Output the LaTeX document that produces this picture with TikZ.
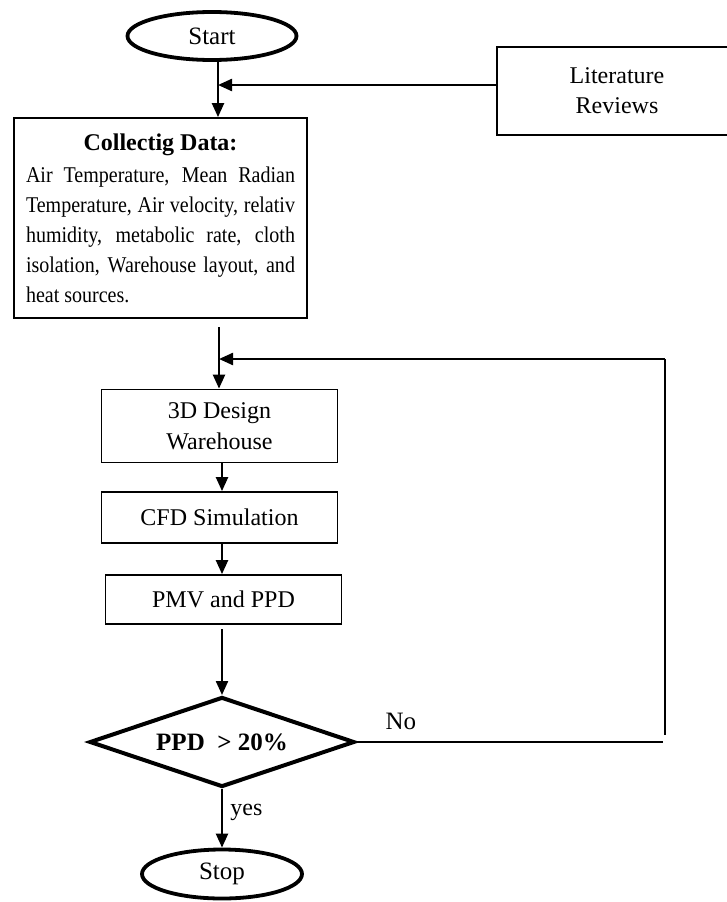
\documentclass[tikz,border=0pt]{standalone}
\usepackage{fontspec}
\setmainfont{Liberation Serif}
\usetikzlibrary{positioning,shapes.geometric,arrows.meta}

\begin{document}
\begin{tikzpicture}[
    x=1pt, y=-1pt,
    box/.style={%
      draw,
      rectangle,
      line width=1.8pt,
      minimum width=236pt,
      align=center,
      font=\fontsize{24}{30}\selectfont,
    },
    term/.style={%
      draw,
      ellipse,
      line width=3.8pt,
      minimum width=169pt,
      minimum height=48pt,
      font=\fontsize{25}{30}\selectfont,
    },
    decide/.style={%
      draw,
      diamond,
      aspect=2.9,
      line width=4pt,
      inner sep=0pt,
      minimum width=265pt,
      minimum height=90pt,
      font=\bfseries\fontsize{25}{30}\selectfont,
    },
    arr/.style={-{Triangle[length=14pt,width=12pt]}, line width=2.3pt},
    back/.style={line width=1.8pt},
  ]

    \useasboundingbox (0,0) rectangle (727,902);

    \node [term] (Start) at (212,36) {Start};
    \node [box, minimum width=240pt, minimum height=88pt] (Lit) at (617,91) {Literature\\Reviews};
    \node [box, minimum width=0pt, minimum height=200pt, text width=269pt, inner xsep=12pt,
      align=justify, font=\fontsize{22.5}{30}\selectfont\addfontfeatures{FakeStretch=0.89}] (Data) at (160.5,218)
      {{\centering\normalfont\bfseries\fontsize{24}{30}\selectfont Collectig Data:\par}\vspace{2pt}%
       Air Temperature, Mean Radian\linebreak
       Temperature, Air velocity, relativ\linebreak
       humidity, metabolic rate, cloth\linebreak
       isolation, Warehouse layout, and\linebreak
       heat sources.};
    \node [box, minimum height=73pt, font=\fontsize{24}{31}\selectfont] (Design) at (219.5,426) {3D Design\\Warehouse};
    \node [box, minimum height=51pt] (CFD) at (219.5,517.5) {CFD Simulation};
    \node [box, minimum height=49pt] (PMV) at (223.5,599.5) {PMV and PPD};
    \node [decide] (PPD) at (222,742) {PPD \ > 20\%};
    \node [term, minimum width=160pt, minimum height=49pt] (Stop) at (222,874) {Stop};

    % joining points
    \coordinate (litIn) at (218,85);
    \coordinate (dataOut) at (219,327);
    \coordinate (backIn) at (219,359);
    \coordinate (backTop) at (665,359);
    \coordinate (backBot) at (665,735);
    \coordinate (noEnd) at (663,742);
    \coordinate (midCol) at (222,629);

    \draw [arr] (Start.south -| litIn) -- (Data.north -| litIn);
    \draw [arr] (Lit.west |- litIn) -- (litIn);
    \draw [arr] (dataOut) -- (dataOut |- Design.north);
    \draw [arr] (backTop) -- (backIn);
    \draw [back] (backTop) -- (backBot);
    \draw [back] (PPD.east) -- (noEnd) node [pos=0.145, above=8pt, font=\fontsize{25}{30}\selectfont] {No};
    \draw [arr] (Design.south -| midCol) -- (CFD.north -| midCol);
    \draw [arr] (CFD.south -| midCol) -- (PMV.north -| midCol);
    \draw [arr] (midCol) -- (PPD.north);
    \draw [arr] (PPD.south) -- (Stop.north) node [pos=0.4, right=4pt, font=\fontsize{24}{30}\selectfont] {yes};
\end{tikzpicture}
\end{document}
